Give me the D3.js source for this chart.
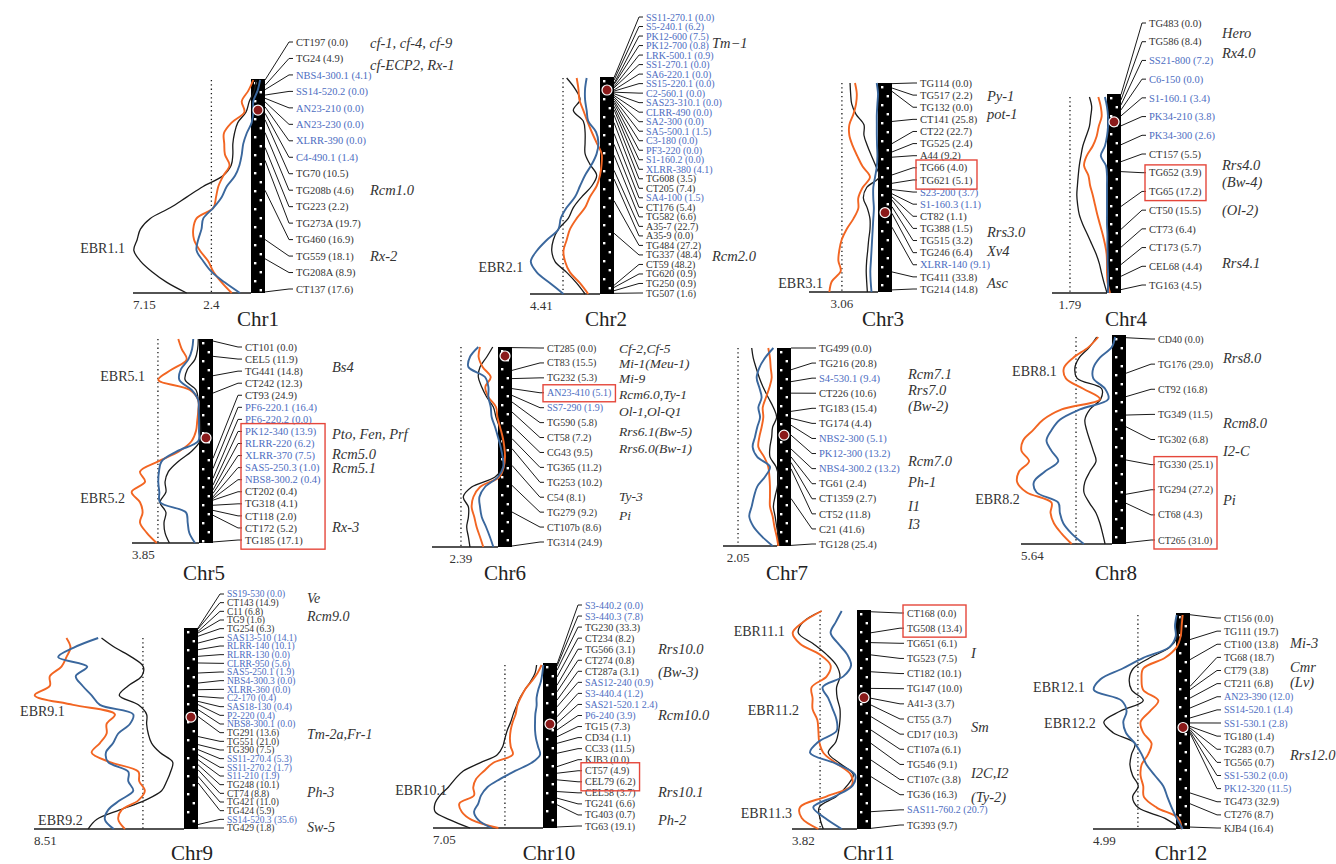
<!DOCTYPE html>
<html>
<head>
<meta charset="utf-8">
<script src="https://cdn.jsdelivr.net/npm/d3@7"></script>
<style>
  body { margin: 0; background: #fff; }
  svg { display: block; }
</style>
</head>
<body>
<script>
const CHR = ["Chr1","Chr2","Chr3","Chr4","Chr5","Chr6","Chr7","Chr8","Chr9","Chr10","Chr11","Chr12"];

// axis extent (left end of baseline) and significance threshold (dotted line)
const AXIS_MAX  = [7.15, 4.41, 5.85, 2.66, 3.85, 4.26, 2.84, 5.64, 8.51, 7.05, 3.82, 4.99];
const THRESHOLD = [2.4, 2.33, 3.06, 1.79, 2.36, 2.39, 2.05, 2.23, 2.33, 2.44, 2.17, 2.29];
const MAX_LABEL = ["7.15","4.41",null,null,"3.85",null,null,"5.64","8.51","7.05","3.82","4.99"];
const THR_LABEL = ["2.4",null,"3.06","1.79",null,"2.39","2.05",null,null,null,null,null];

// three curves, 21 samples each from top to bottom of the chromosome
const BLACK_LOD = [
  [-0.3,-0.2,0.1,0.3,0.8,1.0,1.1,1.1,1.2,1.7,2.9,3.9,4.9,6.1,6.7,6.9,7.1,6.7,6.0,5.1,3.9],
  [2.1,1.57,1.26,1.68,1.05,0.94,0.94,0.94,0.63,0.21,0.52,1.15,1.68,2.0,2.62,2.94,3.04,2.83,2.1,1.47,0.94],
  [2.37,2.32,2.23,1.86,1.19,1.19,0.9,0.54,0.17,-0.11,0.96,1.24,0.9,0.68,0.68,0.79,0.87,0.96,1.0,0.96,0.9],
  [0.85,0.74,0.79,0.85,1.01,1.17,1.26,1.34,1.39,1.43,1.46,1.42,1.34,1.17,0.95,0.74,0.53,0.37,0.26,0.14,0.0],
  [0.04,0.08,0.23,0.67,0.8,0.17,0.04,0.0,-0.06,-0.1,-0.06,0.42,1.19,1.76,1.95,1.9,2.24,1.9,2.01,1.95,1.7],
  [0.34,0.73,1.16,1.27,1.05,0.73,0.3,0.13,-0.09,-0.24,-0.34,-0.45,-0.34,0.19,1.7,2.24,1.91,1.91,2.02,1.91,1.81],
  [1.33,1.25,1.1,0.93,0.72,0.46,0.19,0.02,0.23,0.28,0.37,0.37,0.05,-0.07,-0.02,0.1,0.19,0.1,0.02,-0.07,-0.12],
  [0.95,1.41,2.03,2.3,2.16,0.64,0.7,1.37,1.68,1.57,1.37,1.16,0.99,1.37,1.68,1.74,1.41,0.99,0.75,0.58,0.43],
  [4.68,3.92,2.97,2.31,2.4,3.16,3.67,2.59,2.12,2.12,2.03,1.84,1.36,0.64,0.76,0.98,1.27,2.22,3.64,4.96,5.44],
  [0.41,0.51,0.79,1.15,1.47,1.69,1.9,2.07,2.29,2.44,2.58,2.93,4.04,5.11,5.64,6.07,6.6,6.92,6.92,5.96,4.68],
  [2.08,3.16,3.45,2.57,1.78,1.2,1.0,1.2,1.16,1.0,1.0,1.08,1.24,1.69,1.0,0.22,0.57,1.2,2.22,2.18,1.98],
  [-0.34,-0.24,-0.1,0.36,1.57,2.57,2.81,2.67,1.97,3.37,4.34,3.78,2.47,2.67,2.77,2.61,2.27,2.61,2.27,0.66,-0.34]
];
const ORANGE_LOD = [
  [-0.14,0.16,0.56,0.4,1.17,1.64,1.62,1.58,1.3,1.68,1.98,2.12,2.28,3.3,3.5,3.45,3.1,2.6,2.28,1.78,1.17],
  [1.47,1.36,1.3,1.05,0.8,0.52,0.21,-0.1,-0.1,0.0,0.21,0.63,0.94,1.47,1.89,2.1,2.3,2.2,1.89,1.26,0.74],
  [1.95,1.8,1.86,2.09,2.43,2.43,2.15,1.75,1.3,0.68,1.3,1.67,1.67,2.09,2.66,3.08,3.28,3.36,3.16,3.92,4.12],
  [0.42,0.3,0.26,0.4,0.5,0.69,0.98,1.11,0.9,0.82,0.69,0.58,0.47,0.34,0.21,0.1,0.02,0.0,0.0,-0.03,-0.15],
  [1.19,0.99,0.71,1.57,2.34,0.52,0.04,0.04,0.1,0.17,0.42,1.13,2.34,3.39,3.1,3.87,3.39,3.24,3.39,3.0,2.43],
  [1.16,1.25,0.99,0.47,0.82,0.62,0.13,0.04,-0.13,-0.3,-0.41,-0.45,-0.37,-0.09,1.16,1.59,1.7,1.53,1.38,1.16,0.95],
  [0.46,0.37,0.33,0.28,0.4,0.58,0.75,0.72,0.81,0.93,0.98,0.68,0.46,0.4,0.37,0.37,0.37,0.23,0.14,0.02,-0.07],
  [0.85,1.47,2.4,2.98,2.86,1.78,0.75,3.12,4.27,4.89,5.51,5.61,5.14,5.76,5.88,5.3,3.75,3.81,3.6,3.12,2.5],
  [6.67,6.44,6.67,6.95,7.61,7.61,8.47,6.29,3.92,4.39,4.39,4.77,5.24,4.2,2.59,2.54,2.22,2.59,3.54,3.73,3.35],
  [0.09,0.36,0.73,1.15,1.43,1.65,1.75,1.94,2.07,2.12,2.07,1.94,3.18,3.78,4.29,4.47,4.42,5.36,5.21,4.57,2.86],
  [2.08,3.16,3.78,3.35,2.18,1.55,1.78,2.67,2.61,2.61,2.33,2.27,2.22,1.98,1.2,0.37,0.31,1.78,3.35,3.25,2.27],
  [-0.4,-0.34,-0.28,-0.04,0.66,1.97,2.07,1.97,1.06,1.57,2.13,1.97,1.47,1.67,2.07,2.13,1.97,1.93,1.16,-0.14,-0.34]
];
const BLUE_LOD = [
  [-0.55,-0.4,-0.14,-0.14,-0.04,0.26,0.47,0.56,0.7,0.97,1.47,1.78,2.28,2.89,3.0,3.2,3.3,2.9,2.4,1.6,0.67],
  [0.84,0.94,0.94,0.84,0.74,0.25,0.1,0.21,0.52,0.94,1.26,1.57,2.1,2.47,2.62,3.35,3.98,4.36,3.98,3.14,2.3],
  [0.11,0.0,0.05,0.1,0.1,0.1,0.08,0.05,0.1,0.25,0.4,0.4,0.35,0.4,0.45,0.5,0.55,0.6,0.65,0.62,0.55],
  [0.1,0.0,-0.05,-0.05,0.0,0.1,0.3,0.05,0.0,0.0,0.0,0.0,0.0,0.0,-0.02,-0.02,-0.03,-0.03,-0.05,-0.05,-0.05],
  [0.33,0.4,0.61,1.05,1.13,0.42,0.04,0.02,0.0,0.0,0.04,1.25,2.15,2.3,2.34,2.28,2.24,0.75,0.65,0.56,0.23],
  [1.27,1.81,1.91,0.84,0.62,0.62,0.47,0.41,0.19,0.0,-0.17,-0.3,-0.34,0.0,0.84,1.2,1.16,1.05,0.77,0.52,0.3],
  [0.19,0.63,0.93,1.07,0.93,0.81,0.98,0.89,1.04,1.16,1.28,1.04,0.37,0.63,1.04,1.21,1.33,1.46,1.25,0.81,0.23],
  [-0.19,0.02,0.75,1.16,1.16,0.43,0.23,1.99,3.23,3.75,4.06,3.75,3.33,4.16,4.84,4.68,3.33,3.23,3.02,2.5,1.74],
  [4.87,6.25,7.14,5.49,6.14,5.76,5.24,4.77,2.88,3.07,3.73,4.02,4.43,4.3,3.16,3.16,2.88,3.64,4.3,4.49,3.98],
  [-0.02,0.04,0.13,0.3,0.41,0.41,0.49,0.51,0.51,0.45,0.32,0.19,0.73,1.79,2.76,3.57,3.97,4.15,4.42,4.15,3.29],
  [0.9,1.24,1.55,1.1,0.57,0.35,0.8,2.02,1.69,1.43,1.2,1.2,2.27,2.76,1.24,0.12,0.25,1.29,2.57,1.88,0.9],
  [-0.04,0.06,0.02,0.4,1.97,3.21,4.54,4.94,3.27,2.97,3.17,3.01,2.47,2.07,1.77,1.27,0.76,0.52,0.26,-0.04,-0.4]
];

// markers: label, position along chromosome (0 top .. 1 bottom), blue flag
const MARKERS = [
  [["CT197 (0.0)",0.005,0],["TG24 (4.9)",0.03,0],["NBS4-300.1 (4.1)",0.05,1],["SS14-520.2 (0.0)",0.075,1],["AN23-210 (0.0)",0.09,1],["AN23-230 (0.0)",0.107,1],["XLRR-390 (0.0)",0.13,1],["C4-490.1 (1.4)",0.16,1],["TG70 (10.5)",0.19,0],["TG208b (4.6)",0.25,0],["TG223 (2.2)",0.32,0],["TG273A (19.7)",0.38,0],["TG460 (16.9)",0.52,0],["TG559 (18.1)",0.75,0],["TG208A (8.9)",0.84,0],["CT137 (17.6)",0.995,0]],
  [["SS11-270.1 (0.0)",0.003,1],["S5-240.1 (6.2)",0.015,1],["PK12-600 (7.5)",0.03,1],["PK12-700 (0.8)",0.035,1],["LRK-500.1 (0.9)",0.045,1],["SS1-270.1 (0.0)",0.05,1],["SA6-220.1 (0.0)",0.06,1],["SS15-220.1 (0.0)",0.065,1],["C2-560.1 (0.0)",0.07,1],["SAS23-310.1 (0.0)",0.077,1],["CLRR-490 (0.0)",0.085,1],["SA2-300 (0.0)",0.092,1],["SA5-500.1 (1.5)",0.1,1],["C3-180 (0.0)",0.11,1],["PF3-220 (0.0)",0.12,1],["S1-160.2 (0.0)",0.135,1],["XLRR-380 (4.1)",0.15,1],["TG608 (3.5)",0.175,0],["CT205 (7.4)",0.21,0],["SA4-100 (1.5)",0.26,1],["CT176 (5.4)",0.31,0],["TG582 (6.6)",0.36,0],["A35-7 (22.7)",0.43,0],["A35-9 (0.0)",0.47,0],["TG484 (27.2)",0.57,0],["TG337 (48.4)",0.72,0],["CT59 (48.2)",0.96,0],["TG620 (0.9)",0.97,0],["TG250 (0.9)",0.985,0],["TG507 (1.6)",0.997,0]],
  [["TG114 (0.0)",0.003,0],["TG517 (2.2)",0.024,0],["TG132 (0.0)",0.04,0],["CT141 (25.8)",0.184,0],["CT22 (22.7)",0.29,0],["TG525 (2.4)",0.33,0],["A44 (9.2)",0.355,0],["TG66 (4.0)",0.44,0],["TG621 (5.1)",0.48,0],["S23-200 (3.7)",0.51,1],["S1-160.3 (1.1)",0.53,1],["CT82 (1.1)",0.545,0],["TG388 (1.5)",0.56,0],["TG515 (3.2)",0.592,0],["TG246 (6.4)",0.624,0],["XLRR-140 (9.1)",0.69,1],["TG411 (33.8)",0.904,0],["TG214 (14.8)",0.99,0]],
  [["TG483 (0.0)",0.003,0],["TG586 (8.4)",0.03,0],["SS21-800 (7.2)",0.055,1],["C6-150 (0.0)",0.08,1],["S1-160.1 (3.4)",0.11,1],["PK34-210 (3.8)",0.16,1],["PK34-300 (2.6)",0.255,1],["CT157 (5.5)",0.34,0],["TG652 (3.9)",0.39,0],["TG65 (17.2)",0.565,0],["CT50 (15.5)",0.68,0],["CT73 (6.4)",0.77,0],["CT173 (5.7)",0.857,0],["CEL68 (4.4)",0.916,0],["TG163 (4.5)",0.983,0]],
  [["CT101 (0.0)",0.01,0],["CEL5 (11.9)",0.085,0],["TG441 (14.8)",0.18,0],["CT242 (12.3)",0.265,0],["CT93 (24.9)",0.585,0],["PF6-220.1 (16.4)",0.635,1],["PF6-220.2 (0.0)",0.683,1],["PK12-340 (13.9)",0.716,1],["RLRR-220 (6.2)",0.74,1],["XLRR-370 (7.5)",0.757,1],["SAS5-250.3 (1.0)",0.774,1],["NBS8-300.2 (0.4)",0.782,1],["CT202 (0.4)",0.79,0],["TG318 (4.1)",0.815,0],["CT118 (2.0)",0.84,0],["CT172 (5.2)",0.864,0],["TG185 (17.1)",0.995,0]],
  [["CT285 (0.0)",0.003,0],["CT83 (15.5)",0.117,0],["TG232 (5.3)",0.158,0],["AN23-410 (5.1)",0.208,1],["SS7-290 (1.9)",0.242,1],["TG590 (5.8)",0.275,0],["CT58 (7.2)",0.325,0],["CG43 (9.5)",0.392,0],["TG365 (11.2)",0.458,0],["TG253 (10.2)",0.508,0],["C54 (8.1)",0.592,0],["TG279 (9.2)",0.692,0],["CT107b (8.6)",0.825,0],["TG314 (24.9)",0.995,0]],
  [["TG499 (0.0)",0.0,0],["TG216 (20.8)",0.11,0],["S4-530.1 (9.4)",0.17,1],["CT226 (10.6)",0.228,0],["TG183 (15.4)",0.32,0],["TG174 (4.4)",0.355,0],["NBS2-300 (5.1)",0.39,1],["PK12-300 (13.2)",0.44,1],["NBS4-300.2 (13.2)",0.51,1],["TG61 (2.4)",0.55,0],["CT1359 (2.7)",0.578,0],["CT52 (11.8)",0.61,0],["C21 (41.6)",0.76,0],["TG128 (25.4)",0.997,0]],
  [["CD40 (0.0)",0.013,0],["TG176 (29.0)",0.183,0],["CT92 (16.8)",0.295,0],["TG349 (11.5)",0.383,0],["TG302 (6.8)",0.439,0],["TG330 (25.1)",0.598,0],["TG294 (27.2)",0.762,0],["CT68 (4.3)",0.805,0],["CT265 (31.0)",0.994,0]],
  [["SS19-530 (0.0)",0.0,1],["CT143 (14.9)",0.005,0],["C11 (6.8)",0.017,0],["TG9 (1.6)",0.025,0],["TG254 (6.3)",0.041,0],["SAS13-510 (14.1)",0.075,1],["RLRR-140 (10.1)",0.108,1],["RLRR-130 (0.0)",0.141,1],["CLRR-950 (5.6)",0.174,1],["SAS5-250.1 (1.9)",0.224,1],["NBS4-300.3 (0.0)",0.274,1],["XLRR-360 (0.0)",0.307,1],["C2-170 (0.4)",0.34,1],["SAS18-130 (0.4)",0.365,1],["P2-220 (0.4)",0.381,1],["NBS8-300.1 (0.0)",0.406,1],["TG291 (13.6)",0.44,0],["TG551 (21.0)",0.54,0],["TG390 (7.5)",0.58,0],["SS11-270.4 (5.3)",0.605,1],["SS11-270.2 (1.7)",0.63,1],["S11-210 (1.9)",0.655,1],["TG248 (10.1)",0.68,0],["CT74 (8.8)",0.705,0],["TG421 (11.0)",0.738,0],["TG424 (5.9)",0.77,0],["SS14-520.3 (35.6)",0.978,1],["TG429 (1.8)",0.995,0]],
  [["S3-440.2 (0.0)",0.008,1],["S3-440.3 (7.8)",0.02,1],["TG230 (33.3)",0.044,0],["CT234 (8.2)",0.085,0],["TG566 (3.1)",0.135,0],["CT274 (0.8)",0.175,0],["CT287a (3.1)",0.225,0],["SAS12-240 (0.9)",0.266,1],["S3-440.4 (1.2)",0.326,1],["SAS21-520.1 2.4)",0.366,1],["P6-240 (3.9)",0.406,1],["TG15 (7.3)",0.447,0],["CD34 (1.1)",0.487,0],["CC33 (11.5)",0.547,0],["KJB3 (0.0)",0.628,0],["CT57 (4.9)",0.668,0],["CEL79 (6.2)",0.708,0],["CEL58 (3.7)",0.779,0],["TG241 (6.6)",0.819,0],["TG403 (0.7)",0.859,0],["TG63 (19.1)",0.994,0]],
  [["CT168 (0.0)",0.008,0],["TG508 (13.4)",0.104,0],["TG651 (6.1)",0.149,0],["TG523 (7.5)",0.205,0],["CT182 (10.1)",0.282,0],["TG147 (10.0)",0.358,0],["A41-3 (3.7)",0.403,0],["CT55 (3.7)",0.434,0],["CD17 (10.3)",0.487,0],["CT107a (6.1)",0.548,0],["TG546 (9.1)",0.609,0],["CT107c (3.8)",0.685,0],["TG36 (16.3)",0.761,0],["SAS11-760.2 (20.7)",0.921,1],["TG393 (9.7)",0.997,0]],
  [["CT156 (0.0)",0.008,0],["TG111 (19.7)",0.123,0],["CT100 (13.8)",0.216,0],["TG68 (18.7)",0.34,0],["CT79 (3.8)",0.355,0],["CT211 (6.8)",0.394,0],["AN23-390 (12.0)",0.44,1],["SS14-520.1 (1.4)",0.486,1],["SS1-530.1 (2.8)",0.509,1],["TG180 (1.4)",0.525,0],["TG283 (0.7)",0.532,0],["TG565 (0.7)",0.54,0],["SS1-530.2 (0.0)",0.548,1],["PK12-320 (11.5)",0.556,1],["TG473 (32.9)",0.833,0],["CT276 (8.7)",0.883,0],["KJB4 (16.4)",0.991,0]]
];

// boxed marker rows (first, last), centromere position
const BOXED = [null, null, [7,8], [8,9], [7,16], [3,3], null, [5,8], null, [15,16], [0,1], null];
const CENTROMERE = [0.145, 0.06, 0.62, 0.14, 0.485, 0.045, 0.44, null, 0.443, 0.37, 0.40, 0.53];

// resistance genes: name, marker row it sits beside
const GENES = [
  [["cf-1, cf-4, cf-9",0.06],["cf-ECP2, Rx-1",1.4],["Rcm1.0",9.0],["Rx-2",13.0]],
  [["Tm\u22121",2.7],["Rcm2.0",25.1]],
  [["Py-1",1.07],["pot-1",2.56],["Rrs3.0",12.3],["Xv4",13.86],["Asc",16.5]],
  [["Hero",0.53],["Rx4.0",1.6],["Rrs4.0",7.59],["(Bw-4)",8.5],["(Ol-2)",10.0],["Rrs4.1",12.83]],
  [["Bs4",1.66],["Pto, Fen, Prf",7.2],["Rcm5.0",8.87],["Rcm5.1",10.03],["Rx-3",14.9]],
  [["Cf-2,Cf-5",0.0],["Mi-1(Meu-1)",1.05],["Mi-9",2.05],["Rcm6.0,Ty-1",3.1],["Ol-1,Ol-Q1",4.22],["Rrs6.1(Bw-5)",5.6],["Rrs6.0(Bw-1)",6.7],["Ty-3",9.92],["Pi",11.2]],
  [["Rcm7.1",1.72],["Rrs7.0",2.79],["(Bw-2)",3.85],["Rcm7.0",7.5],["Ph-1",8.9],["I1",10.5],["I3",11.7]],
  [["Rrs8.0",0.76],["Rcm8.0",3.35],["I2-C",4.46],["Pi",6.41]],
  [["Ve",0.5],["Rcm9.0",2.5],["Tm-2a,Fr-1",16.15],["Ph-3",22.8],["Sw-5",26.9]],
  [["Rrs10.0",3.98],["(Bw-3)",6.06],["Rcm10.0",9.95],["Rrs10.1",16.9],["Ph-2",19.46]],
  [["I",2.64],["Sm",7.53],["I2C,I2",10.57],["(Ty-2)",12.15]],
  [["Mi-3",1.9],["Cmr",3.73],["(Lv)",4.88],["Rrs12.0",10.44]]
];

// evolutionary breakpoint regions: name, position along chromosome, value at label's right edge
const EBR = [
  [["EBR1.1",0.79,7.64]],
  [["EBR2.1",0.876,4.84]],
  [["EBR3.1",0.957,4.66]],
  [],
  [["EBR5.1",0.18,3.1],["EBR5.2",0.78,4.25]],
  [],
  [],
  [["EBR8.1",0.172,3.42],["EBR8.2",0.785,5.71]],
  [["EBR9.1",0.413,6.76],["EBR9.2",0.955,5.74]],
  [["EBR10.1",0.77,6.15]],
  [["EBR11.1",0.096,4.24],["EBR11.2",0.457,3.41],["EBR11.3",0.927,3.82]],
  [["EBR12.1",0.343,5.48],["EBR12.2",0.51,4.82]]
];

// --- panel geometry ---
const LAYOUT = [
  {barX:251,  barTop:79,  barBot:293, curveTop:80,  baseX:133,  labX:296,  labTop:42,  labBot:289, fs:10.5, geneX:370,  gfs:14.5, titleX:258,  titleY:326},
  {barX:600,  barTop:77,  barBot:294, curveTop:78,  baseX:530,  labX:646,  labTop:17,  labBot:293, fs:10,   geneX:712,  gfs:14.5, titleX:606,  titleY:326},
  {barX:878,  barTop:83,  barBot:292, curveTop:83,  baseX:809,  labX:920,  labTop:83,  labBot:289, fs:10.5, geneX:987,  gfs:14.5, titleX:883,  titleY:326},
  {barX:1107, barTop:94,  barBot:293, curveTop:97,  baseX:1052, labX:1149, labTop:23,  labBot:285, fs:10.5, geneX:1222, gfs:14.5, titleX:1126, titleY:326},
  {barX:199,  barTop:339, barBot:543, curveTop:339, baseX:132,  labX:245,  labTop:347, labBot:540, fs:10.5, geneX:332,  gfs:14.5, titleX:204,  titleY:580},
  {barX:498,  barTop:347, barBot:547, curveTop:347, baseX:432,  labX:547,  labTop:348, labBot:542, fs:10,   geneX:619,  gfs:13.5, titleX:505,  titleY:580},
  {barX:777,  barTop:348, barBot:546, curveTop:348, baseX:723,  labX:819,  labTop:348, labBot:544, fs:10.5, geneX:908,  gfs:14.5, titleX:787,  titleY:580},
  {barX:1112, barTop:335, barBot:544, curveTop:337, baseX:1021, labX:1158, labTop:339, labBot:540, fs:10,   geneX:1223, gfs:14.5, titleX:1116, titleY:580},
  {barX:184,  barTop:628, barBot:829, curveTop:638, baseX:34,   labX:227,  labTop:594, labBot:828, fs:9.5,  geneX:307,  gfs:14,   titleX:192,  titleY:860},
  {barX:543,  barTop:663, barBot:828, curveTop:665, baseX:433,  labX:585,  labTop:605, labBot:826, fs:10,   geneX:658,  gfs:14.5, titleX:549,  titleY:860},
  {barX:857,  barTop:610, barBot:829, curveTop:611, baseX:792,  labX:907,  labTop:613, labBot:825, fs:10,   geneX:971,  gfs:14.5, titleX:869,  titleY:860},
  {barX:1176, barTop:613, barBot:829, curveTop:615, baseX:1093, labX:1224, labTop:618, labBot:828, fs:10,   geneX:1290, gfs:14.5, titleX:1181, titleY:860}
];

const FONT = "'Liberation Serif', 'Times New Roman', 'DejaVu Serif', serif";
const BAR_W = 14;
const COL = { black: "#1a1a1a", orange: "#f26522", blue: "#3a679d", text: "#333", blueText: "#4d6dc1", box: "#e5473b", dot: "#8b1a1a" };

const svg = d3.select("body").append("svg")
  .attr("width", 1336).attr("height", 864)
  .style("font-family", FONT);
const defs = svg.append("defs");

CHR.forEach((name, i) => {
  const L = LAYOUT[i];
  const g = svg.append("g");

  const x = d3.scaleLinear().domain([0, AXIS_MAX[i]]).range([L.barX, L.baseX]);
  const yPos = d3.scaleLinear().domain([0, 1]).range([L.barTop, L.barBot]);
  const n = BLACK_LOD[i].length;
  const yCurve = d3.scaleLinear().domain([0, n - 1]).range([L.curveTop, L.barBot]);
  const markers = MARKERS[i];
  const yRow = d3.scaleLinear().domain([0, markers.length - 1]).range([L.labTop, L.labBot]);

  // baseline and threshold
  g.append("line")
    .attr("x1", L.baseX).attr("x2", L.barX).attr("y1", L.barBot).attr("y2", L.barBot)
    .attr("stroke", COL.black).attr("stroke-width", 1.6);
  g.append("line")
    .attr("x1", x(THRESHOLD[i])).attr("x2", x(THRESHOLD[i]))
    .attr("y1", L.curveTop).attr("y2", L.barBot)
    .attr("stroke", COL.black).attr("stroke-width", 1.3).attr("stroke-dasharray", "1.3,3");

  if (MAX_LABEL[i]) {
    g.append("text").attr("x", L.baseX).attr("y", L.barBot + 16)
      .attr("font-size", 13).attr("fill", COL.text).text(MAX_LABEL[i]);
  }
  if (THR_LABEL[i]) {
    g.append("text").attr("x", x(THRESHOLD[i])).attr("y", L.barBot + 16)
      .attr("text-anchor", "middle").attr("font-size", 13).attr("fill", COL.text).text(THR_LABEL[i]);
  }

  // chromosome bar with white dots
  const pid = "dots" + i;
  const pat = defs.append("pattern").attr("id", pid)
    .attr("patternUnits", "userSpaceOnUse")
    .attr("x", L.barX).attr("y", L.barTop).attr("width", BAR_W).attr("height", 18);
  pat.append("rect").attr("width", BAR_W).attr("height", 18).attr("fill", "#000");
  pat.append("rect").attr("x", 3).attr("y", 3).attr("width", 2.4).attr("height", 2.4).attr("fill", "#fff");
  pat.append("rect").attr("x", 8.6).attr("y", 12).attr("width", 2.4).attr("height", 2.4).attr("fill", "#fff");
  g.append("rect")
    .attr("x", L.barX).attr("y", L.barTop).attr("width", BAR_W).attr("height", L.barBot - L.barTop)
    .attr("fill", `url(#${pid})`);

  // curves
  const line = d3.line().x(d => x(d)).y((d, j) => yCurve(j)).curve(d3.curveCatmullRom.alpha(0.5));
  [[BLACK_LOD, COL.black, 1.3], [ORANGE_LOD, COL.orange, 1.9], [BLUE_LOD, COL.blue, 1.9]].forEach(([s, c, w]) => {
    g.append("path").datum(s[i]).attr("d", line)
      .attr("fill", "none").attr("stroke", c).attr("stroke-width", w).attr("stroke-linejoin", "round");
  });

  // leaders and marker labels
  const xR = L.barX + BAR_W;
  markers.forEach(([lab, pos], j) => {
    g.append("path")
      .attr("d", `M${xR},${yPos(pos)}L${L.labX - 7},${yRow(j)}L${L.labX - 3},${yRow(j)}`)
      .attr("fill", "none").attr("stroke", COL.black).attr("stroke-width", 1);
  });
  const labels = g.selectAll("text.marker").data(markers).join("text")
    .attr("class", "marker")
    .attr("x", L.labX).attr("y", (d, j) => yRow(j)).attr("dy", "0.35em")
    .attr("font-size", L.fs)
    .attr("fill", d => d[2] ? COL.blueText : COL.text)
    .text(d => d[0]);

  if (BOXED[i]) {
    const [a, b] = BOXED[i];
    const nodes = labels.nodes().slice(a, b + 1).map(nd => nd.getBBox());
    const x0 = d3.min(nodes, r => r.x) - 4, x1 = d3.max(nodes, r => r.x + r.width) + 4;
    const y0 = d3.min(nodes, r => r.y) - 2.5, y1 = d3.max(nodes, r => r.y + r.height) + 2.5;
    g.append("rect").attr("x", x0).attr("y", y0).attr("width", x1 - x0).attr("height", y1 - y0)
      .attr("fill", "none").attr("stroke", COL.box).attr("stroke-width", 1.4);
  }

  // centromere
  if (CENTROMERE[i] != null) {
    g.append("circle").attr("cx", L.barX + BAR_W / 2).attr("cy", yPos(CENTROMERE[i])).attr("r", 5)
      .attr("fill", COL.dot).attr("stroke", "#fff").attr("stroke-width", 1.2);
  }

  // genes
  GENES[i].forEach(([gn, row]) => {
    g.append("text").attr("x", L.geneX).attr("y", yRow(row)).attr("dy", "0.35em")
      .attr("font-size", L.gfs).attr("font-style", "italic").attr("fill", COL.text).text(gn);
  });

  // EBR labels
  EBR[i].forEach(([lab, pos, v]) => {
    g.append("text").attr("x", x(v)).attr("y", yPos(pos)).attr("dy", "0.35em")
      .attr("text-anchor", "end").attr("font-size", 14).attr("fill", COL.text).text(lab);
  });

  // title
  g.append("text").attr("x", L.titleX).attr("y", L.titleY)
    .attr("text-anchor", "middle").attr("font-size", 21).attr("fill", "#222").text(name);
});
</script>
</body>
</html>
